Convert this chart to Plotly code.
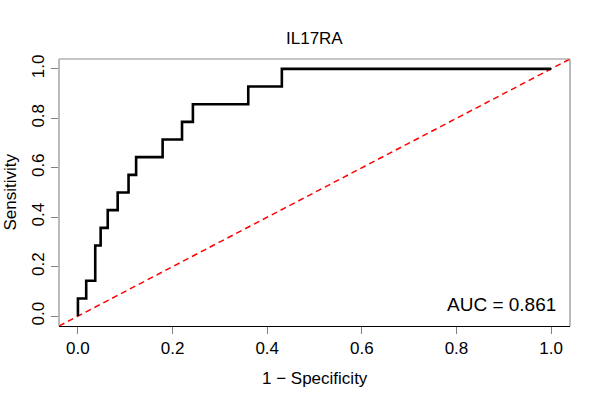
import plotly.graph_objects as go

# ROC curve points (1 - specificity, sensitivity)
fpr = [0.0, 0.0, 0.0175, 0.0366, 0.048, 0.063, 0.084, 0.107, 0.123,
       0.179, 0.220, 0.243, 0.360, 0.431, 1.0]
tpr = [0.0, 0.0714, 0.1429, 0.2857, 0.3571, 0.4286, 0.5, 0.5714, 0.6429,
       0.7143, 0.7857, 0.8571, 0.9286, 1.0, 1.0]

ref_x = [-0.04, 1.04]
ref_y = [-0.04, 1.04]

tick_vals = [0.0, 0.2, 0.4, 0.6, 0.8, 1.0]
tick_text = ["0.0", "0.2", "0.4", "0.6", "0.8", "1.0"]

auc_label = "AUC = 0.861"
font = "Liberation Sans, Arial, Helvetica, sans-serif"

fig = go.Figure()

# chance line
fig.add_trace(go.Scatter(x=ref_x, y=ref_y, mode="lines",
                         line=dict(color="#ff0000", width=1.5, dash="6px,4px"),
                         hoverinfo="skip"))

# step curve
fig.add_trace(go.Scatter(x=fpr, y=tpr, mode="lines", line_shape="hv",
                         line=dict(color="black", width=2.6)))

fig.update_layout(
    width=600, height=400,
    margin=dict(l=59, r=30, t=59, b=74),
    plot_bgcolor="white", paper_bgcolor="white",
    showlegend=False,
    font=dict(family=font, size=17, color="black"),
)

fig.update_xaxes(range=[-0.04, 1.04], tickvals=tick_vals, ticktext=tick_text,
                 showgrid=False, zeroline=False, automargin=False,
                 showline=True, linecolor="black", linewidth=1,
                 ticks="outside", ticklen=7, tickcolor="#808080", tickwidth=1)
fig.update_yaxes(range=[-0.04, 1.04], tickvals=tick_vals, ticktext=tick_text,
                 tickangle=-90, showgrid=False, zeroline=False, automargin=False,
                 ticks="outside", ticklen=7, tickcolor="#808080", tickwidth=1)

# grey box on left, top, right (bottom is the black axis line)
for x0, y0, x1, y1 in [(0, 0, 0, 1), (0, 1, 1, 1), (1, 0, 1, 1)]:
    fig.add_shape(type="line", xref="x domain", yref="y domain",
                  x0=x0, y0=y0, x1=x1, y1=y1,
                  line=dict(color="#8c8c8c", width=1.2))

fig.add_annotation(text="IL17RA", xref="paper", yref="paper", x=0.5, y=1,
                   yshift=21, yanchor="middle", showarrow=False)
fig.add_annotation(text="1 − Specificity", xref="paper", yref="paper",
                   x=0.5, y=0, yshift=-52, yanchor="middle", showarrow=False)
fig.add_annotation(text="Sensitivity", xref="paper", yref="paper",
                   x=0, y=0.5, xshift=-49, xanchor="center", yanchor="middle",
                   textangle=-90, showarrow=False)
fig.add_annotation(text=auc_label, x=1.0155, y=0.049, xanchor="right",
                   yanchor="middle", showarrow=False, font=dict(size=19))

# drop the browser's default body margin so the figure sits at the page corner
fig.write_html("out.html", config={"displayModeBar": False},
               post_script="document.body.style.margin='0';")
